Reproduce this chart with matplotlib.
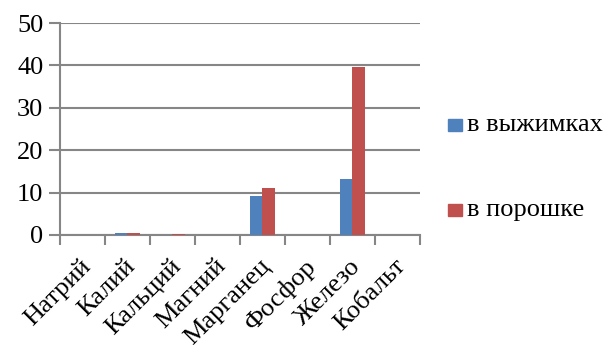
import matplotlib.pyplot as plt
import numpy as np
from matplotlib.patches import Rectangle

plt.rcParams['font.family'] = ['Liberation Serif', 'DejaVu Serif']

elements = ["Натрий", "Калий", "Кальций", "Магний", "Марганец", "Фосфор", "Железо", "Кобальт"]
in_pomace = [0, 0.4, 0, 0, 9.2, 0, 13.2, 0]
in_powder = [0, 0.5, 0.3, 0, 11.1, 0, 39.6, 0]
series_names = ["в выжимках", "в порошке"]
colors = ["#4F81BD", "#C0504D"]
grid_color = "#868686"

fig = plt.figure(figsize=(6.06, 3.45), dpi=100)
ax = fig.add_axes([0.099, 0.319, 0.594, 0.614])

x = np.arange(len(elements))
w = 0.28
ax.bar(x - w / 2, in_pomace, w, color=colors[0], zorder=3)
ax.bar(x + w / 2, in_powder, w, color=colors[1], zorder=3)

ax.set_xlim(-0.5, len(elements) - 0.5)
ax.set_ylim(0, 50)
ax.set_yticks(range(0, 51, 10))
ax.yaxis.grid(True, color=grid_color, lw=1.5, zorder=0)
ax.tick_params(axis='y', length=8, width=1.5, color=grid_color, labelsize=19, pad=4)

# boundary ticks between categories
ax.set_xticks(np.arange(-0.5, len(elements), 1.0))
ax.set_xticklabels([])
ax.tick_params(axis='x', length=7, width=1.5, color=grid_color)

# category names, rotated and ending just right of the group centre
for i, name in enumerate(elements):
    ax.annotate(name, xy=(x[i], 0), xycoords=('data', 'axes fraction'),
                xytext=(-3, -20), textcoords='offset pixels', rotation=45,
                ha='right', va='top', rotation_mode='anchor', fontsize=19,
                annotation_clip=False)

for side in ['top', 'right']:
    ax.spines[side].set_visible(False)
for side in ['left', 'bottom']:
    ax.spines[side].set_color(grid_color)
    ax.spines[side].set_linewidth(1.5)
ax.set_axisbelow(True)

# legend on the right
for i, (name, c) in enumerate(zip(series_names, colors)):
    ly = 0.638 - i * 0.248
    fig.patches.append(Rectangle((448 / 606, ly - 0.017), 14 / 606, 12 / 345,
                                 transform=fig.transFigure, color=c))
    fig.text(467 / 606, ly, name, fontsize=19, va='center', ha='left')

fig.savefig("out.png", dpi=100)
